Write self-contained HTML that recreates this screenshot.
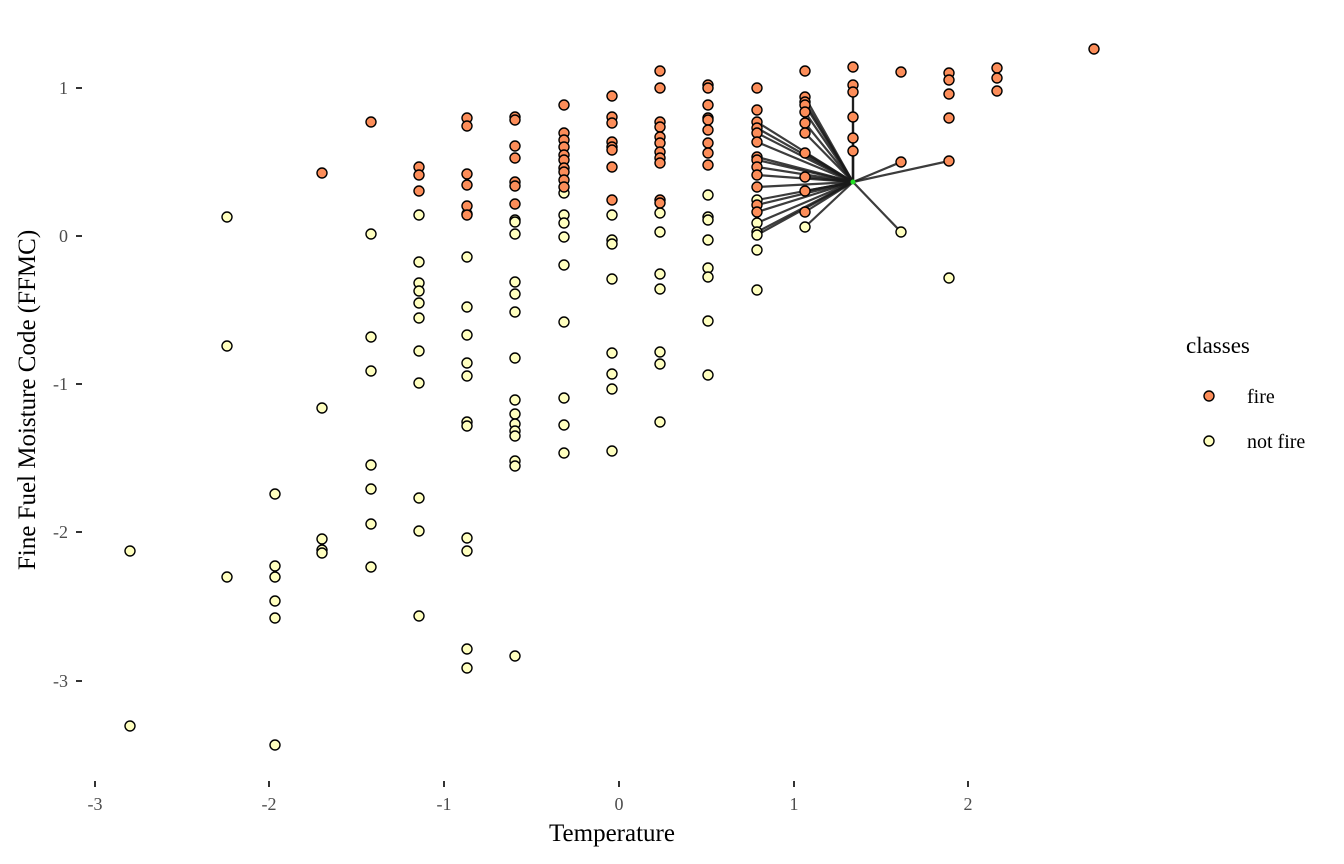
<!DOCTYPE html>
<html><head><meta charset="utf-8"><style>
html,body{margin:0;padding:0;background:#fff}
svg{display:block;font-family:"Liberation Serif",serif}
</style></head><body>
<svg id="s" width="1344" height="864" viewBox="0 0 1344 864" xmlns="http://www.w3.org/2000/svg">
<g stroke="#333" stroke-width="2">
<line x1="76" y1="88" x2="82" y2="88"/><line x1="76" y1="236" x2="82" y2="236"/>
<line x1="76" y1="384" x2="82" y2="384"/><line x1="76" y1="532" x2="82" y2="532"/>
<line x1="76" y1="681" x2="82" y2="681"/>
<line x1="95" y1="781" x2="95" y2="787"/><line x1="269" y1="781" x2="269" y2="787"/>
<line x1="444" y1="781" x2="444" y2="787"/><line x1="619" y1="781" x2="619" y2="787"/>
<line x1="794" y1="781" x2="794" y2="787"/><line x1="968" y1="781" x2="968" y2="787"/>
</g>
<g font-size="18" fill="#4d4d4d" text-anchor="end">
<text x="68" y="94">1</text><text x="68" y="242">0</text><text x="68" y="390">-1</text>
<text x="68" y="538">-2</text><text x="68" y="687">-3</text>
</g>
<g font-size="18" fill="#4d4d4d" text-anchor="middle">
<text x="95" y="810">-3</text><text x="269" y="810">-2</text><text x="444" y="810">-1</text>
<text x="619" y="810">0</text><text x="794" y="810">1</text><text x="968" y="810">2</text>
</g>
<text x="612" y="841" font-size="25" text-anchor="middle">Temperature</text>
<text transform="translate(35,400) rotate(-90)" font-size="25" text-anchor="middle">Fine Fuel Moisture Code (FFMC)</text>
<text x="1186" y="353" font-size="23">classes</text>
<text x="1247" y="403" font-size="20">fire</text>
<text x="1247" y="448" font-size="20">not fire</text>
<g id="lines" stroke="#1a1a1a" stroke-opacity="0.85" stroke-width="2.2"></g>
<g id="pts" stroke="#000" stroke-width="1.4"></g>
<circle cx="853" cy="182" r="2.5" fill="#22dd22"/>
<circle cx="1209" cy="396" r="5" fill="#FC8D59" stroke="#000" stroke-width="1.4"/>
<circle cx="1209" cy="441" r="5" fill="#FFFFBF" stroke="#000" stroke-width="1.4"/>
</svg>
<script>
var F="#FC8D59",N="#FFFFBF";
var d=[
[130,[],[551,726]],
[227,[],[217,346,577]],
[275,[],[494,566,577,601,618,745]],
[322,[173],[408,539,550,553]],
[371,[122],[234,337,371,465,489,524,567]],
[419,[167,175,191],[215,262,283,291,303,318,351,383,498,531,616]],
[467,[118,126,174,185,206,215],[214,257,307,335,363,376,422,426,538,551,649,668]],
[515,[117,120,146,158,182,186,204],[220,222,234,282,294,312,358,400,414,424,431,436,461,466,656]],
[564,[105,133,140,147,155,160,168,172,180,187],[193,215,223,237,265,322,398,425,453]],
[612,[96,117,123,142,147,150,167,200],[215,240,244,279,353,374,389,451]],
[660,[71,88,122,127,137,143,152,158,163,200,203],[213,232,274,289,352,364,422]],
[708,[85,88,105,118,120,130,143,153,165],[195,217,220,240,268,277,321,375]],
[757,[88,110,122,128,133,142,157,160,167,175,187,205,212],[200,223,232,235,250,290]],
[805,[71,97,102,105,112,123,133,153,177,191,212],[227]],
[853,[67,85,92,117,138,151],[]],
[901,[72,162],[232]],
[949,[73,80,94,118,161],[278]],
[997,[68,78,91],[]],
[1094,[49],[]]];
var ns="http://www.w3.org/2000/svg",L=document.getElementById("lines"),P=document.getElementById("pts");
function ln(x,y){var l=document.createElementNS(ns,"line");l.setAttribute("x1",x);l.setAttribute("y1",y);l.setAttribute("x2",853);l.setAttribute("y2",182);L.appendChild(l);}
function c(x,y,f){var e=document.createElementNS(ns,"circle");e.setAttribute("cx",x);e.setAttribute("cy",y);e.setAttribute("r",5);e.setAttribute("fill",f);P.appendChild(e);}
d.forEach(function(r){var x=r[0];
 var all=r[2].map(function(y){return [y,N]}).concat(r[1].map(function(y){return [y,F]}));
 all.forEach(function(p){var y=p[0];
  if((x==757&&y>=120&&y<=240)||(x==805&&y>=90)||(x==853&&y>=85)||(x==901&&y!=72)||(x==949&&y==161))ln(x,y);});
 all.forEach(function(p){c(x,p[0],p[1]);});
});
</script>
</body></html>
